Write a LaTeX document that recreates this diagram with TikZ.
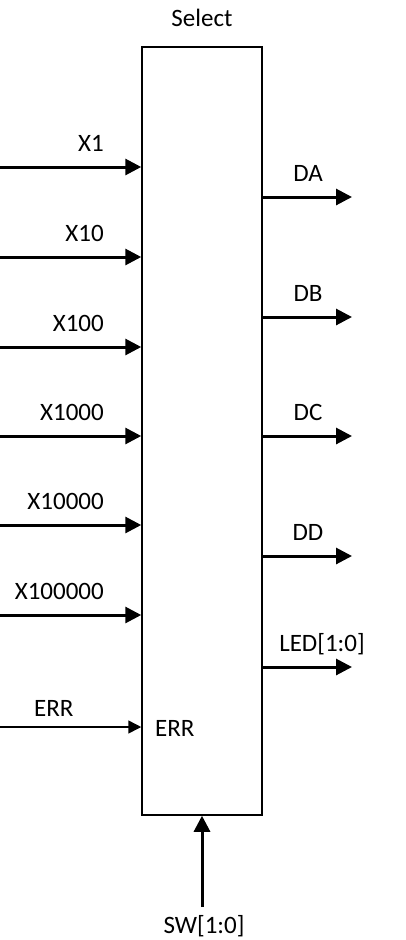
\documentclass[tikz,border=0pt]{standalone}
\usepackage{fontspec}
\setmainfont{Carlito}
\usetikzlibrary{arrows.meta,positioning}

\begin{document}
\begin{tikzpicture}[x=1pt,y=-1pt,
	font=\fontsize{25}{30}\selectfont,
	bus/.style={line width=3pt, -{Triangle[length=16pt,width=16pt]}},
	sig/.style={line width=1.5pt, -{Triangle[length=13pt,width=13pt]}},
	lbl/.style={inner sep=0pt}]
	\useasboundingbox (0,0) rectangle (406,940);
	\node (sel) [draw, line width=1.5pt, minimum width=120pt, minimum height=768pt, inner sep=0pt] at (202,431) {};
	\node (title) [lbl, anchor=base] at (202,26) {Select};
	
	% inputs
	\foreach \name/\y in {X1/167,X10/257,X100/347,X1000/436,X10000/525,X100000/615} {
		\coordinate (in\name) at (0,\y);
		\draw [bus] (in\name) -- (sel.west |- in\name);
		\node [lbl, anchor=base east] at (104,\y-16) {\name};
	}
	\coordinate (inERR) at (0,727);
	\draw [sig] (inERR) -- (sel.west |- inERR);
	\node (errin) [lbl, anchor=base west] at (34,716) {ERR};
	\node (errpin) [lbl, anchor=base west] at (155,736) {ERR};
	
	% outputs
	\foreach \name/\y/\x in {DA/197/308,DB/317/308,DC/436/308,DD/556/308,LED[1:0]/667/322} {
		\coordinate (out\y) at (352,\y);
		\draw [bus] (sel.east |- out\y) -- (out\y);
		\node [lbl, anchor=base] at (\x,\y-16) {\name};
	}
	
	% select input
	\coordinate (sw) at (202,907);
	\draw [bus] (sw) -- (sel.south);
	\node (swl) [lbl, anchor=base] at (204,933) {SW[1:0]};
\end{tikzpicture}
\end{document}
